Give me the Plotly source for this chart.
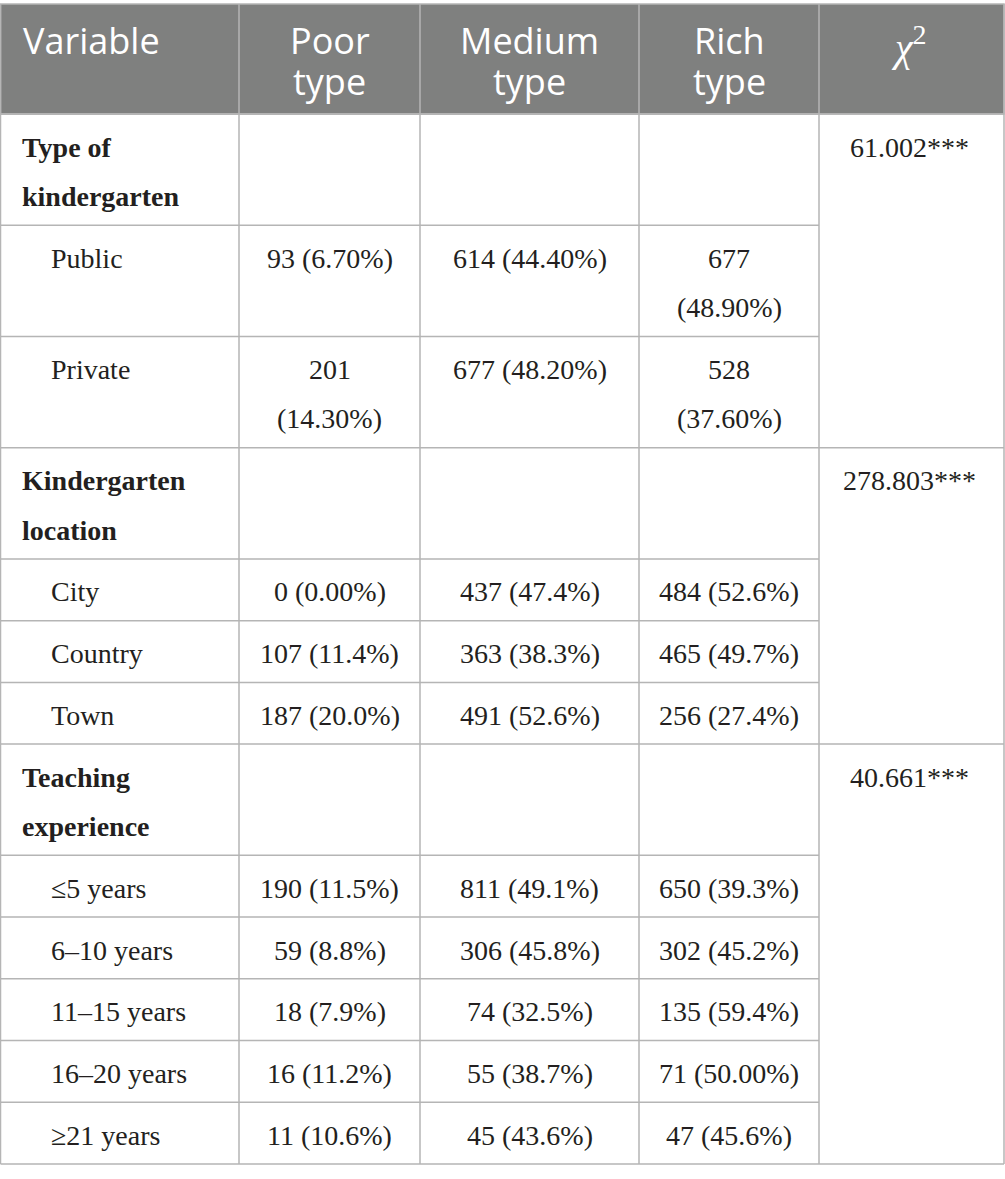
import plotly.graph_objects as go

# ---------------- data ----------------
header_labels = ["Variable", "Poor<br>type", "Medium<br>type", "Rich<br>type", "<i>χ</i><sup>2</sup>"]
group_labels = ["Type of<br>kindergarten", "Kindergarten<br>location", "Teaching<br>experience"]
group_sizes = [2, 3, 5]
chi2_values = ["61.002***", "278.803***", "40.661***"]
sub_labels = ["Public", "Private", "City", "Country", "Town",
              "≤5 years", "6–10 years", "11–15 years", "16–20 years", "≥21 years"]
poor_n = [93, 201, 0, 107, 187, 190, 59, 18, 16, 11]
poor_pct = ["6.70", "14.30", "0.00", "11.4", "20.0", "11.5", "8.8", "7.9", "11.2", "10.6"]
medium_n = [614, 677, 437, 363, 491, 811, 306, 74, 55, 45]
medium_pct = ["44.40", "48.20", "47.4", "38.3", "52.6", "49.1", "45.8", "32.5", "38.7", "43.6"]
rich_n = [677, 528, 484, 465, 256, 650, 302, 135, 71, 47]
rich_pct = ["48.90", "37.60", "52.6", "49.7", "27.4", "39.3", "45.2", "59.4", "50.00", "45.6"]

# ---------------- layout constants ----------------
W, H = 1005, 1179
col_edges = [0.5, 239, 420, 639, 819, 1004]
header_top, header_bot = 4, 114
single_h = 61.73
line_gap = 49.5
double_h = single_h + line_gap
first_line_off = 33
line_col = "#b5b5b5"
header_fill = "#7f807f"
text_col = "#231f20"
serif = "Liberation Serif"
sans = "Open Sans"
fs_body = 28
fs_head = 36

def cell_text(n, pct, col_w):
    s = f"{n} ({pct}%)"
    if len(s) >= 12 and col_w < 200:
        return f"{n}<br>({pct}%)"
    return s

annotations = []
shapes = []

def add_text(x, y_top, text, font, size, color, xanchor="center", gap=line_gap, off=first_line_off, bold=False):
    for i, line in enumerate(text.split("<br>")):
        annotations.append(dict(
            x=x, y=y_top + off + i * gap, xref="x", yref="y",
            text=f"<b>{line}</b>" if bold else line,
            showarrow=False, xanchor=xanchor, yanchor="middle",
            font=dict(family=font, size=size, color=color), borderpad=0))

# header
shapes.append(dict(type="rect", x0=col_edges[0], x1=col_edges[-1], y0=header_top, y1=header_bot,
                   xref="x", yref="y", fillcolor=header_fill, line=dict(color=line_col, width=1.5), layer="below"))
chi_x = (col_edges[4] + col_edges[5]) / 2
for ci, lab in enumerate(header_labels):
    if ci == 0:
        add_text(22, header_top, lab, sans, fs_head, "white", xanchor="left", gap=41, off=36)
    elif ci == 4:
        add_text(chi_x - 3, header_top, lab, serif, 40, "white", off=40)
    else:
        add_text((col_edges[ci] + col_edges[ci + 1]) / 2, header_top, lab, sans, fs_head, "white", gap=41, off=36)

# body
y = header_bot
hlines = [header_bot]
full_lines = [header_bot]
k = 0
for g, (glab, gsize, chi) in enumerate(zip(group_labels, group_sizes, chi2_values)):
    add_text(21, y, glab, serif, fs_body, text_col, xanchor="left", bold=True)
    add_text(chi_x - 2, y, chi, serif, fs_body, text_col)
    y += double_h
    hlines.append(y)
    for j in range(gsize):
        cells = [
            cell_text(poor_n[k], poor_pct[k], col_edges[2] - col_edges[1]),
            cell_text(medium_n[k], medium_pct[k], col_edges[3] - col_edges[2]),
            cell_text(rich_n[k], rich_pct[k], col_edges[4] - col_edges[3]),
        ]
        rh = double_h if any("<br>" in c for c in cells) else single_h
        add_text(50, y, sub_labels[k], serif, fs_body, text_col, xanchor="left")
        for ci, c in enumerate(cells):
            add_text((col_edges[ci + 1] + col_edges[ci + 2]) / 2, y, c, serif, fs_body, text_col)
        y += rh
        k += 1
        if j < gsize - 1:
            hlines.append(y)
    full_lines.append(y)

body_bot = y
for yy in hlines:
    shapes.append(dict(type="line", x0=col_edges[0], x1=col_edges[4], y0=yy, y1=yy, xref="x", yref="y",
                       line=dict(color=line_col, width=1.5)))
for yy in full_lines:
    shapes.append(dict(type="line", x0=col_edges[0], x1=col_edges[5], y0=yy, y1=yy, xref="x", yref="y",
                       line=dict(color=line_col, width=1.5)))
for xx in col_edges:
    shapes.append(dict(type="line", x0=xx, x1=xx, y0=header_top, y1=body_bot, xref="x", yref="y",
                       line=dict(color=line_col, width=1.5)))

fig = go.Figure()
fig.update_layout(
    width=W, height=H, margin=dict(l=0, r=0, t=0, b=0),
    paper_bgcolor="white", plot_bgcolor="white",
    xaxis=dict(range=[0, W], visible=False, fixedrange=True),
    yaxis=dict(range=[H, 0], visible=False, fixedrange=True),
    annotations=annotations, shapes=shapes, showlegend=False,
)
fig.write_html("out.html", config={"displayModeBar": False},
               post_script="document.body.style.margin='0';document.body.style.overflow='hidden';")
